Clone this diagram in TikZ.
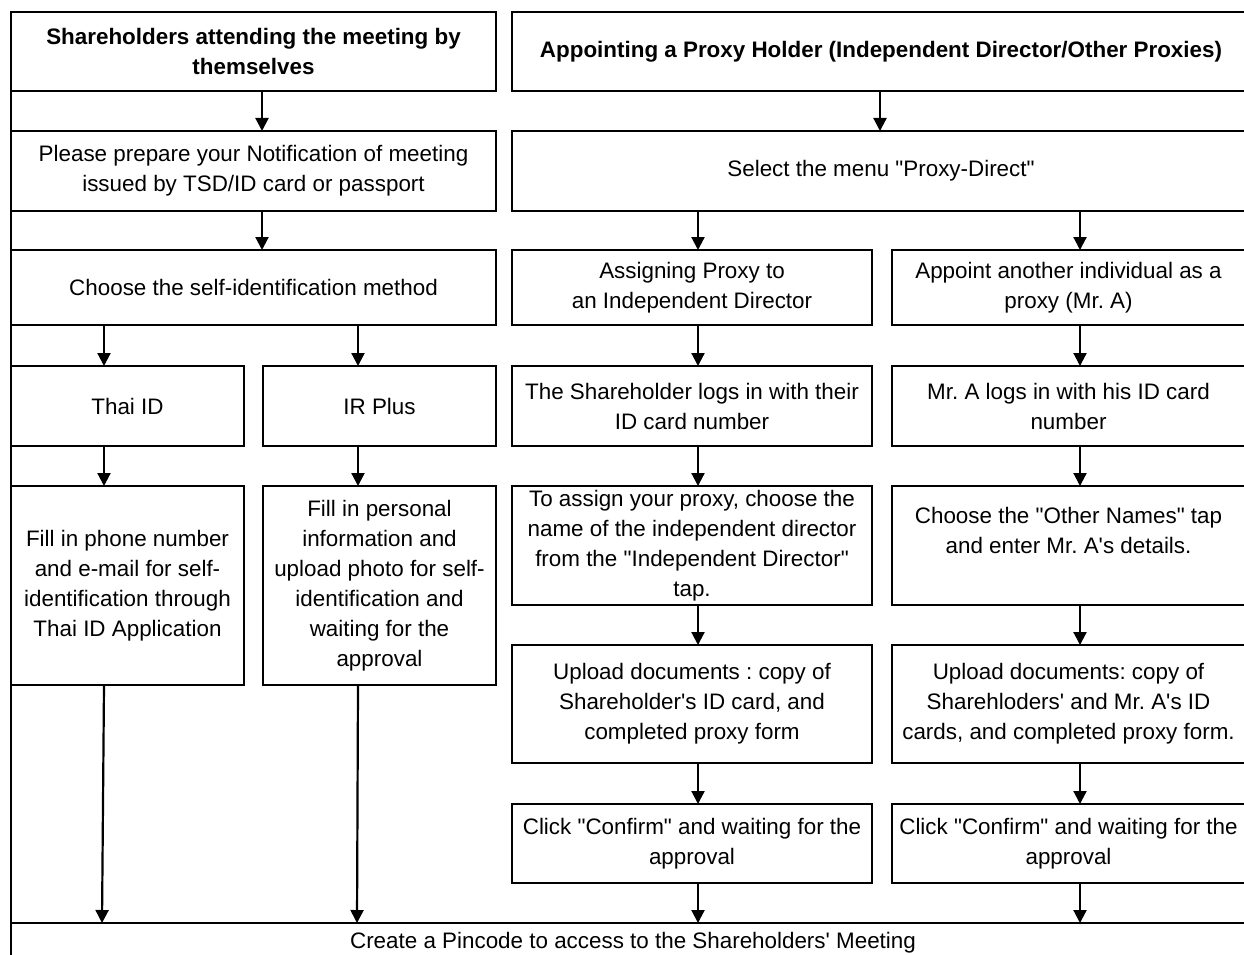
\documentclass[tikz,border=0pt]{standalone}
\usepackage{fontspec}
\newfontfamily\cellfont{Liberation Sans}
\usepackage{tikz}
\usetikzlibrary{arrows.meta}
\tikzstyle{CellBox}=[draw,line width=2pt,inner sep=0pt,outer sep=0pt,anchor=north west,align=center,
font=\cellfont\frenchspacing\fontsize{22.4}{30}\selectfont]
\tikzstyle{TitleBox}=[CellBox,font=\cellfont\frenchspacing\bfseries\fontsize{22.4}{30}\selectfont]
\tikzstyle{FrameLine}=[line width=2pt]
\tikzstyle{FlowArrow}=[line width=2.2pt,-{Triangle[length=13pt,width=13pt]}]

\begin{document}
\begin{tikzpicture}[x=1pt,y=-1pt]
        \useasboundingbox(0,0)rectangle(1244,955);
        \clip(0,0)rectangle(1244,955);
        % attending by themselves
        \node[TitleBox,minimum width=485pt,minimum height=79pt](self)at(11,12){Shareholders attending the meeting by\\themselves};
        \node[CellBox,minimum width=485pt,minimum height=80pt](prep)at(11,131){Please prepare your Notification of meeting\\issued by TSD/ID card or passport};
        \node[CellBox,minimum width=485pt,minimum height=75pt](method)at(11,250){Choose the self-identification method};
        \node[CellBox,minimum width=233pt,minimum height=80pt](thai)at(11,366){Thai ID};
        \node[CellBox,minimum width=233pt,minimum height=80pt](irplus)at(263,366){IR Plus};
        \node[CellBox,minimum width=233pt,minimum height=199pt](thaifill)at(11,486){Fill in phone number\\and e-mail for self-\\identification through\\Thai ID Application};
        \node[CellBox,minimum width=233pt,minimum height=199pt](irfill)at(263,486){Fill in personal\\information and\\upload photo for self-\\identification and\\waiting for the\\approval};
        % proxy holder
        \node[TitleBox,minimum width=738pt,minimum height=79pt](proxy)at(512,12){Appointing a Proxy Holder (Independent Director/Other Proxies)};
        \node[CellBox,minimum width=738pt,minimum height=80pt](menu)at(512,131){Select the menu "Proxy-Direct"};
        \node[CellBox,minimum width=360pt,minimum height=75pt](indep)at(512,250){Assigning Proxy to\\an Independent Director};
        \node[CellBox,minimum width=353pt,minimum height=75pt](other)at(892,250){Appoint another individual as a\\proxy (Mr. A)};
        \node[CellBox,minimum width=360pt,minimum height=80pt](indlog)at(512,366){The Shareholder logs in with their\\ID card number};
        \node[CellBox,minimum width=353pt,minimum height=80pt](othlog)at(892,366){Mr. A logs in with his ID card\\number};
        \node[CellBox,minimum width=360pt,minimum height=119pt](indpick)at(512,486){To assign your proxy, choose the\\name of the independent director\\from the "Independent Director"\\tap.};
        \node[CellBox,minimum width=353pt,minimum height=119pt](othpick)at(892,486){Choose the "Other Names" tap\\and enter Mr. A's details.\\\mbox{}};
        \node[CellBox,minimum width=360pt,minimum height=118pt](indup)at(512,645){Upload documents : copy of\\Shareholder's ID card, and\\completed proxy form};
        \node[CellBox,minimum width=353pt,minimum height=118pt](othup)at(892,645){Upload documents: copy of\\Sharehloders' and Mr. A's ID\\cards, and completed proxy form.};
        \node[CellBox,minimum width=360pt,minimum height=79pt](indok)at(512,804){Click "Confirm" and waiting for the\\approval};
        \node[CellBox,minimum width=353pt,minimum height=79pt](othok)at(892,804){Click "Confirm" and waiting for the\\approval};
        % pincode
        \node[CellBox,minimum width=1244pt,minimum height=40pt](pin)at(11,923){Create a Pincode to access to the Shareholders' Meeting};
        \draw[FrameLine](self.north west)--(self.north west|-pin.south);
        % arrow columns
        \coordinate(selfcol)at(262,0);
        \coordinate(thaicol)at(104,0);
        \coordinate(thaiend)at(102,0);
        \coordinate(ircol)at(358,0);
        \coordinate(irend)at(357,0);
        \coordinate(proxycol)at(880,0);
        \coordinate(indcol)at(698,0);
        \coordinate(othcol)at(1080,0);
        \draw[FlowArrow](selfcol|-self.south)--(selfcol|-prep.north);
        \draw[FlowArrow](selfcol|-prep.south)--(selfcol|-method.north);
        \draw[FlowArrow](thaicol|-method.south)--(thaicol|-thai.north);
        \draw[FlowArrow](ircol|-method.south)--(ircol|-irplus.north);
        \draw[FlowArrow](thaicol|-thai.south)--(thaicol|-thaifill.north);
        \draw[FlowArrow](ircol|-irplus.south)--(ircol|-irfill.north);
        \draw[FlowArrow](thaicol|-thaifill.south)--(thaiend|-pin.north);
        \draw[FlowArrow](ircol|-irfill.south)--(irend|-pin.north);
        \draw[FlowArrow](proxycol|-proxy.south)--(proxycol|-menu.north);
        \draw[FlowArrow](indcol|-menu.south)--(indcol|-indep.north);
        \draw[FlowArrow](othcol|-menu.south)--(othcol|-other.north);
        \draw[FlowArrow](indcol|-indep.south)--(indcol|-indlog.north);
        \draw[FlowArrow](othcol|-other.south)--(othcol|-othlog.north);
        \draw[FlowArrow](indcol|-indlog.south)--(indcol|-indpick.north);
        \draw[FlowArrow](othcol|-othlog.south)--(othcol|-othpick.north);
        \draw[FlowArrow](indcol|-indpick.south)--(indcol|-indup.north);
        \draw[FlowArrow](othcol|-othpick.south)--(othcol|-othup.north);
        \draw[FlowArrow](indcol|-indup.south)--(indcol|-indok.north);
        \draw[FlowArrow](othcol|-othup.south)--(othcol|-othok.north);
        \draw[FlowArrow](indcol|-indok.south)--(indcol|-pin.north);
        \draw[FlowArrow](othcol|-othok.south)--(othcol|-pin.north);
    \end{tikzpicture}
\end{document}
